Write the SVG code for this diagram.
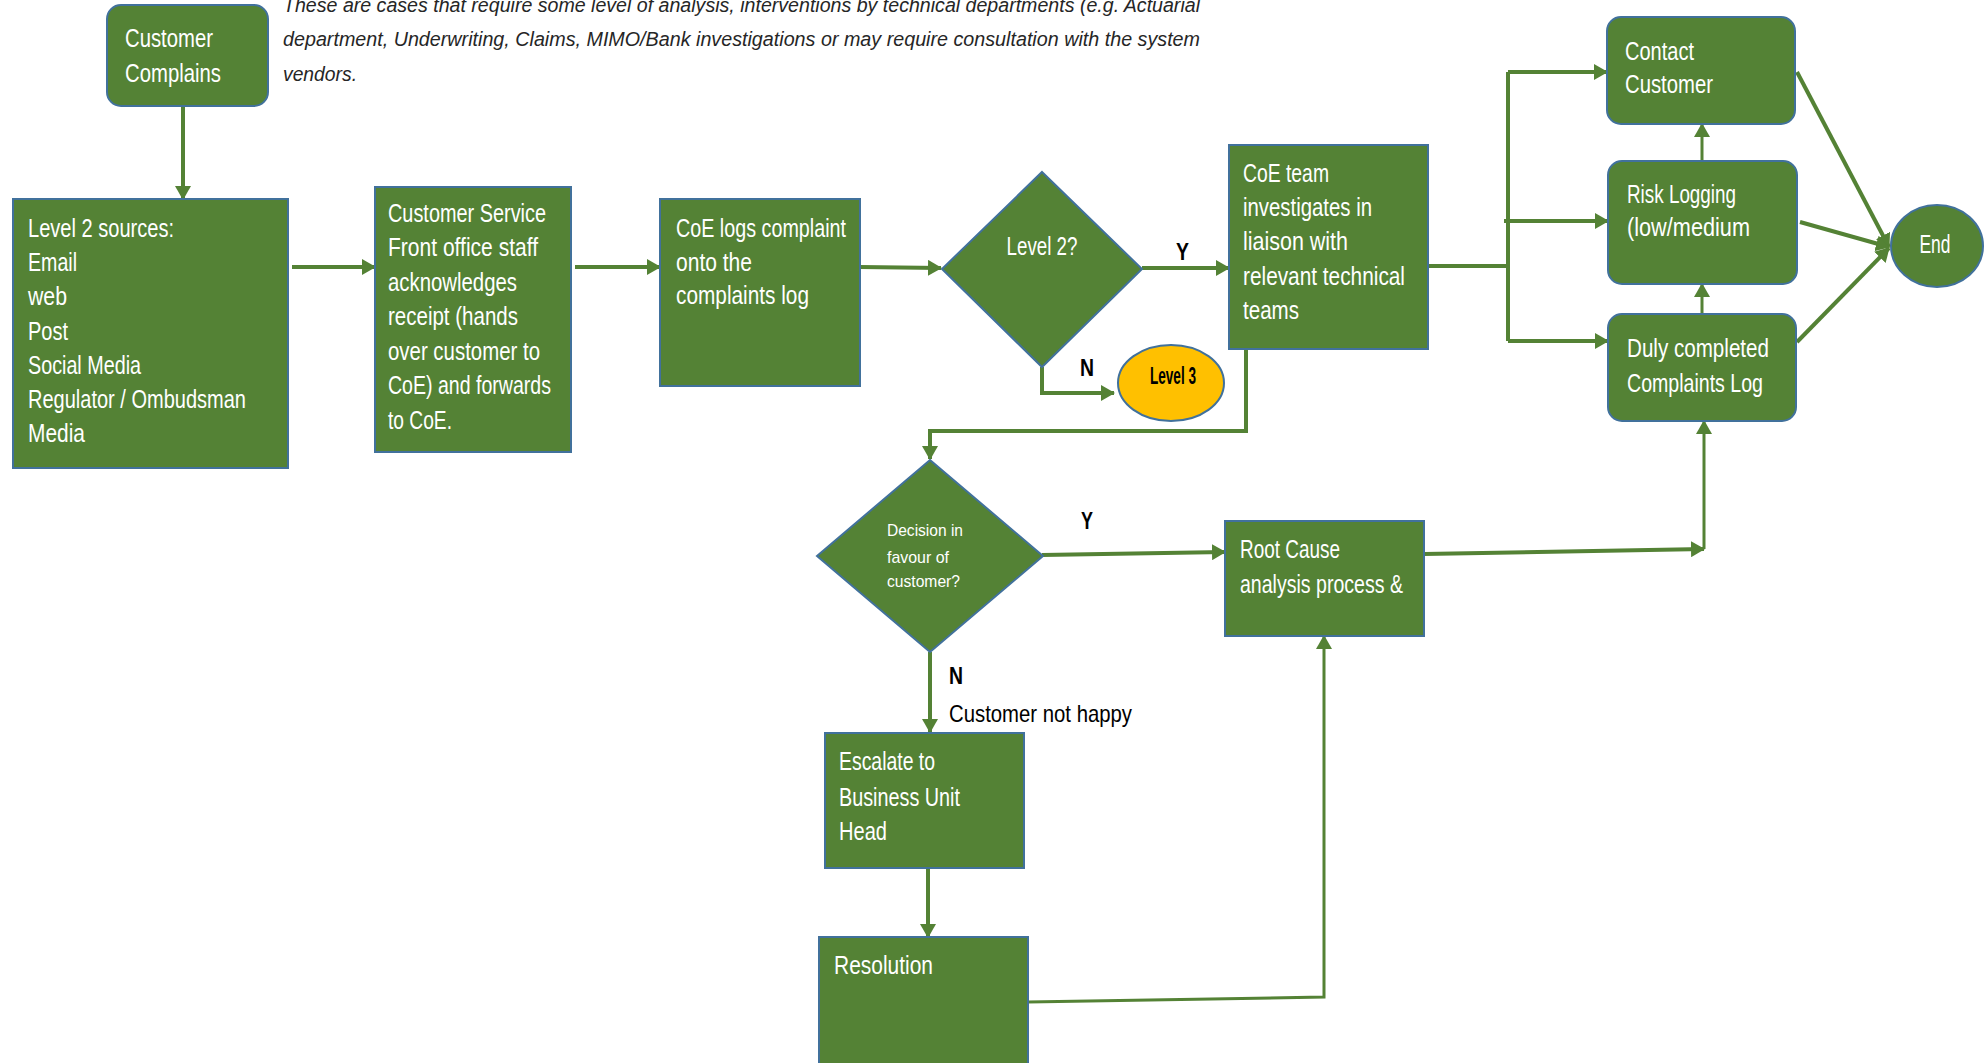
<svg xmlns="http://www.w3.org/2000/svg" width="1987" height="1063" viewBox="0 0 1987 1063">
<style>
.box{fill:#548235;stroke:#41719C;stroke-width:2}
.t{fill:#ffffff;font-family:"Liberation Sans Narrow","Liberation Sans",Arial,sans-serif;font-size:25px}
.ts{fill:#ffffff;font-family:"Liberation Sans Narrow","Liberation Sans",Arial,sans-serif;font-size:17px}
.lbl{fill:#000000;font-family:"Liberation Sans Narrow","Liberation Sans",Arial,sans-serif;font-size:24px}
.b{font-weight:bold}
.note{fill:#262626;font-family:"Liberation Sans",Arial,sans-serif;font-size:20px;font-style:italic}
.c{fill:none;stroke:#548235;stroke-width:4}
.c3{fill:none;stroke:#548235;stroke-width:3}
</style>
<defs>
<marker id="ah" markerUnits="userSpaceOnUse" markerWidth="14" markerHeight="16" refX="13" refY="8" orient="auto">
<path d="M0,0 L14,8 L0,16 z" fill="#548235"/>
</marker>
</defs>
<rect width="1987" height="1063" fill="#ffffff"/>

<g id="note">
<text class="note" x="283" y="12" textLength="917" lengthAdjust="spacingAndGlyphs">These are cases that require some level of analysis, interventions by technical departments (e.g. Actuarial</text>
<text class="note" x="283" y="46" textLength="917" lengthAdjust="spacingAndGlyphs">department, Underwriting, Claims, MIMO/Bank investigations or may require consultation with the system</text>
<text class="note" x="283" y="81" textLength="74" lengthAdjust="spacingAndGlyphs">vendors.</text>
</g>

<g id="connectors">
<line class="c" x1="183" y1="106" x2="183" y2="199" marker-end="url(#ah)"/>
<line class="c" x1="292" y1="267" x2="375" y2="267" marker-end="url(#ah)"/>
<line class="c" x1="575" y1="267" x2="660" y2="267" marker-end="url(#ah)"/>
<line class="c" x1="860" y1="267" x2="941" y2="268" marker-end="url(#ah)"/>
<line class="c" x1="1142" y1="268" x2="1229" y2="268" marker-end="url(#ah)"/>
<polyline class="c" points="1042,367 1042,393 1114,393" marker-end="url(#ah)"/>
<polyline class="c" points="1246,349 1246,431 930,431 930,459" marker-end="url(#ah)"/>
<line class="c" x1="1428" y1="266" x2="1508" y2="266"/>
<line class="c" x1="1508" y1="72" x2="1508" y2="341"/>
<line class="c" x1="1508" y1="72" x2="1607" y2="72" marker-end="url(#ah)"/>
<line class="c" x1="1504" y1="221" x2="1608" y2="221" marker-end="url(#ah)"/>
<line class="c" x1="1508" y1="341" x2="1608" y2="341" marker-end="url(#ah)"/>
<line class="c3" x1="1702" y1="161" x2="1702" y2="124" marker-end="url(#ah)"/>
<line class="c3" x1="1702" y1="314" x2="1702" y2="284" marker-end="url(#ah)"/>
<line class="c" x1="1797" y1="72" x2="1889" y2="247" marker-end="url(#ah)"/>
<line class="c" x1="1800" y1="222" x2="1889" y2="247" marker-end="url(#ah)"/>
<line class="c" x1="1797" y1="342" x2="1889" y2="248" marker-end="url(#ah)"/>
<line class="c" x1="1042" y1="555" x2="1225" y2="552" marker-end="url(#ah)"/>
<line class="c" x1="930" y1="652" x2="930" y2="732" marker-end="url(#ah)"/>
<line class="c" x1="928" y1="868" x2="928" y2="937" marker-end="url(#ah)"/>
<polyline class="c3" points="1028,1002 1324,997 1324,636" marker-end="url(#ah)"/>
<line class="c" x1="1424" y1="554" x2="1704" y2="549" marker-end="url(#ah)"/>
<line class="c3" x1="1704" y1="549" x2="1704" y2="421" marker-end="url(#ah)"/>
</g>

<g id="customer-complains">
<rect class="box" x="107" y="5" width="161" height="101" rx="14"/>
<text class="t" x="125" y="47" textLength="88" lengthAdjust="spacingAndGlyphs">Customer</text>
<text class="t" x="125" y="82" textLength="96" lengthAdjust="spacingAndGlyphs">Complains</text>
</g>

<g id="level2-sources">
<rect class="box" x="13" y="199" width="275" height="269"/>
<text class="t" x="28" y="237" textLength="146" lengthAdjust="spacingAndGlyphs">Level 2  sources:</text>
<text class="t" x="28" y="271" textLength="49" lengthAdjust="spacingAndGlyphs">Email</text>
<text class="t" x="28" y="305" textLength="39" lengthAdjust="spacingAndGlyphs">web</text>
<text class="t" x="28" y="340" textLength="40" lengthAdjust="spacingAndGlyphs">Post</text>
<text class="t" x="28" y="374" textLength="113" lengthAdjust="spacingAndGlyphs">Social Media</text>
<text class="t" x="28" y="408" textLength="218" lengthAdjust="spacingAndGlyphs">Regulator / Ombudsman</text>
<text class="t" x="28" y="442" textLength="57" lengthAdjust="spacingAndGlyphs">Media</text>
</g>

<g id="customer-service">
<rect class="box" x="375" y="187" width="196" height="265"/>
<text class="t" x="388" y="222" textLength="158" lengthAdjust="spacingAndGlyphs">Customer Service</text>
<text class="t" x="388" y="256" textLength="150" lengthAdjust="spacingAndGlyphs">Front office staff</text>
<text class="t" x="388" y="291" textLength="129" lengthAdjust="spacingAndGlyphs">acknowledges</text>
<text class="t" x="388" y="325" textLength="130" lengthAdjust="spacingAndGlyphs">receipt (hands</text>
<text class="t" x="388" y="360" textLength="152" lengthAdjust="spacingAndGlyphs">over customer to</text>
<text class="t" x="388" y="394" textLength="163" lengthAdjust="spacingAndGlyphs">CoE) and forwards</text>
<text class="t" x="388" y="429" textLength="64" lengthAdjust="spacingAndGlyphs">to CoE.</text>
</g>

<g id="coe-logs">
<rect class="box" x="660" y="199" width="200" height="187"/>
<text class="t" x="676" y="237" textLength="170" lengthAdjust="spacingAndGlyphs">CoE logs complaint</text>
<text class="t" x="676" y="271" textLength="76" lengthAdjust="spacingAndGlyphs">onto the</text>
<text class="t" x="676" y="304" textLength="133" lengthAdjust="spacingAndGlyphs">complaints log</text>
</g>

<g id="level2-decision">
<polygon class="box" points="1042,172 1142,269 1042,367 942,269"/>
<text class="t" x="1042" y="255" text-anchor="middle" textLength="71" lengthAdjust="spacingAndGlyphs">Level 2?</text>
</g>

<g id="level3">
<ellipse cx="1171" cy="383" rx="53" ry="38" fill="#FFC000" stroke="#41719C" stroke-width="2"/>
<text class="lbl b" x="1173" y="384" font-size="15" text-anchor="middle" textLength="46" lengthAdjust="spacingAndGlyphs">Level 3</text>
</g>

<g id="coe-team">
<rect class="box" x="1229" y="145" width="199" height="204"/>
<text class="t" x="1243" y="182" textLength="86" lengthAdjust="spacingAndGlyphs">CoE team</text>
<text class="t" x="1243" y="216" textLength="129" lengthAdjust="spacingAndGlyphs">investigates in</text>
<text class="t" x="1243" y="250" textLength="105" lengthAdjust="spacingAndGlyphs">liaison with</text>
<text class="t" x="1243" y="285" textLength="162" lengthAdjust="spacingAndGlyphs">relevant technical</text>
<text class="t" x="1243" y="319" textLength="56" lengthAdjust="spacingAndGlyphs">teams</text>
</g>

<g id="contact-customer">
<rect class="box" x="1607" y="17" width="188" height="107" rx="14"/>
<text class="t" x="1625" y="60" textLength="69" lengthAdjust="spacingAndGlyphs">Contact</text>
<text class="t" x="1625" y="93" textLength="88" lengthAdjust="spacingAndGlyphs">Customer</text>
</g>

<g id="risk-logging">
<rect class="box" x="1608" y="161" width="189" height="123" rx="14"/>
<text class="t" x="1627" y="203" textLength="109" lengthAdjust="spacingAndGlyphs">Risk Logging</text>
<text class="t" x="1627" y="236" textLength="123" lengthAdjust="spacingAndGlyphs">(low/medium</text>
</g>

<g id="duly-completed">
<rect class="box" x="1608" y="314" width="188" height="107" rx="14"/>
<text class="t" x="1627" y="357" textLength="142" lengthAdjust="spacingAndGlyphs">Duly completed</text>
<text class="t" x="1627" y="392" textLength="136" lengthAdjust="spacingAndGlyphs">Complaints Log</text>
</g>

<g id="end">
<ellipse class="box" cx="1937" cy="246" rx="46" ry="41"/>
<text class="t" x="1935" y="253" text-anchor="middle" textLength="31" lengthAdjust="spacingAndGlyphs">End</text>
</g>

<g id="decision-favour">
<polygon class="box" points="930,460 1043,556 930,652 817,556"/>
<text class="ts" x="887" y="536" textLength="76" lengthAdjust="spacingAndGlyphs">Decision in</text>
<text class="ts" x="887" y="563" textLength="62" lengthAdjust="spacingAndGlyphs">favour of</text>
<text class="ts" x="887" y="587" textLength="73" lengthAdjust="spacingAndGlyphs">customer?</text>
</g>

<g id="root-cause">
<rect class="box" x="1225" y="521" width="199" height="115"/>
<text class="t" x="1240" y="558" textLength="100" lengthAdjust="spacingAndGlyphs">Root Cause</text>
<text class="t" x="1240" y="593" textLength="163" lengthAdjust="spacingAndGlyphs">analysis process &amp;</text>
</g>

<g id="escalate">
<rect class="box" x="825" y="733" width="199" height="135"/>
<text class="t" x="839" y="770" textLength="96" lengthAdjust="spacingAndGlyphs">Escalate to</text>
<text class="t" x="839" y="806" textLength="121" lengthAdjust="spacingAndGlyphs">Business Unit</text>
<text class="t" x="839" y="840" textLength="48" lengthAdjust="spacingAndGlyphs">Head</text>
</g>

<g id="resolution">
<rect class="box" x="819" y="937" width="209" height="140"/>
<text class="t" x="834" y="974" textLength="99" lengthAdjust="spacingAndGlyphs">Resolution</text>
</g>

<g id="labels">
<text class="lbl b" x="1176" y="260" textLength="13" lengthAdjust="spacingAndGlyphs">Y</text>
<text class="lbl b" x="1080" y="376" textLength="14" lengthAdjust="spacingAndGlyphs">N</text>
<text class="lbl b" x="1081" y="529" textLength="12" lengthAdjust="spacingAndGlyphs">Y</text>
<text class="lbl b" x="949" y="684" textLength="14" lengthAdjust="spacingAndGlyphs">N</text>
<text class="lbl" x="949" y="722" textLength="183" lengthAdjust="spacingAndGlyphs">Customer not happy</text>
</g>
</svg>
